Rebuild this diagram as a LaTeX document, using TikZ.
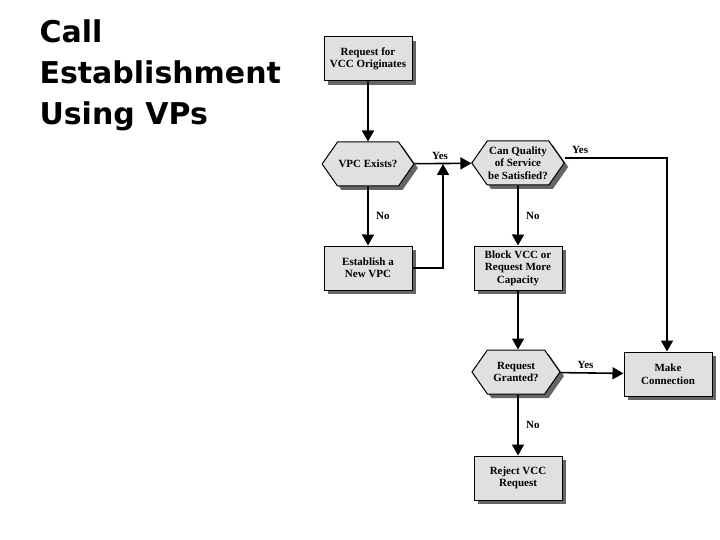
\documentclass[tikz,border=0pt]{standalone}
\usepackage{fontspec}
\setmainfont{Liberation Serif}
\setsansfont{DejaVu Sans}
\usetikzlibrary{shapes.symbols,arrows.meta,shadows}
\tikzset{
  stepbox/.style={draw, line width=1pt, fill=black!12, minimum width=88pt, minimum height=44pt,
    align=center, font=\bfseries\fontsize{11}{12.5}\selectfont, inner xsep=2pt,
    drop shadow={shadow xshift=4pt, shadow yshift=-4pt, fill=black!60, opacity=1}},
  decide/.style={stepbox, shape=signal, signal to=east and west, signal pointer angle=110,
    inner xsep=1pt},
  flow/.style={line width=1.6pt, -{Triangle[width=12pt,length=11pt]}},
  lbl/.style={font=\bfseries\fontsize{11}{12}\selectfont}
}
\begin{document}
\begin{tikzpicture}[x=1pt,y=-1pt]
\useasboundingbox (0,0) rectangle (720,540);
\node[anchor=north west, align=left, font=\sffamily\bfseries\fontsize{30}{41}\selectfont] (title) at (36,16)
  {Call\\Establishment\\Using VPs};
\node[stepbox] (request) at (368,59) {Request for\\VCC Originates};
\node[decide] (exists) at (368,164) {VPC Exists?};
\node[stepbox] (establish) at (368,268) {Establish a\\New VPC};
\node[decide] (quality) at (518,163) {Can Quality\\of Service\\be Satisfied?};
\node[stepbox] (block) at (518,268) {Block VCC or\\Request More\\Capacity};
\node[decide] (granted) at (516,372) {Request\\Granted?};
\node[stepbox] (connect) at (668,374) {Make\\Connection};
\node[stepbox] (reject) at (518,478) {Reject VCC\\Request};
\coordinate (join) at (443,164);
\coordinate (corner) at (667,158);
% connectors
\draw[flow] (request) -- (exists);
\draw[flow] (exists) -- node[lbl, right=4pt] {No} (establish);
\draw[flow] (exists) -- node[lbl, above, pos=0.45] {Yes} (quality);
\draw[flow] (establish.east) -| (join);
\draw[flow] (quality) -- node[lbl, right=4pt] {No} (block);
\draw[flow] (quality.east |- corner) -- node[lbl, above, pos=0.15] {Yes} (corner) -- (connect.north -| corner);
\draw[flow] (block) -- (block |- granted.north);
\draw[flow] (granted) -- node[lbl, above, pos=0.4] {Yes} (connect);
\draw[flow] (granted.south -| reject) -- node[lbl, right=4pt] {No} (reject);
\end{tikzpicture}
\end{document}
